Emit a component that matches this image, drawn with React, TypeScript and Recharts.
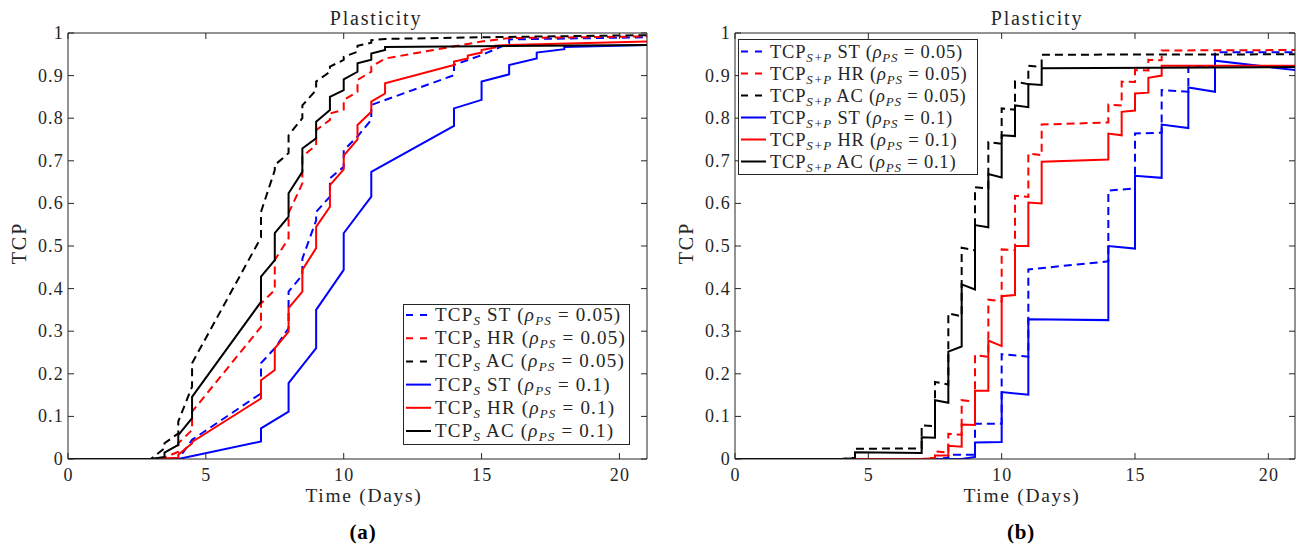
import React from 'react';
import { LineChart, Line, XAxis, YAxis } from 'recharts';

type Pt = [number, number];

const xTicks = [0, 5, 10, 15, 20];
const yTicks = [0, 0.1, 0.2, 0.3, 0.4, 0.5, 0.6, 0.7, 0.8, 0.9, 1];
const yTickLabels = ['0', '0.1', '0.2', '0.3', '0.4', '0.5', '0.6', '0.7', '0.8', '0.9', '1'];
const panelTitles = ['Plasticity', 'Plasticity'];
const panelTags = ['(a)', '(b)'];
const xLabel = 'Time (Days)';
const yLabel = 'TCP';

// ---- Panel (a): TCP_S ----
const S_ST_005: Pt[] = [[0,0],[4,0],[4.5,0.045],[7,0.154],[7,0.225],[7.5,0.26],[8,0.307],[8,0.393],[8.5,0.432],[8.5,0.47],[9,0.56],[9,0.58],[9.5,0.616],[9.5,0.659],[10,0.686],[10,0.725],[10.5,0.757],[11,0.796],[11,0.831],[14,0.901],[14,0.925],[15,0.948],[16,0.976],[16,0.985],[21,0.99]];
const S_HR_005: Pt[] = [[0,0],[3,0],[3.5,0.003],[4,0.017],[4,0.037],[4.5,0.068],[4.5,0.111],[7,0.31],[7,0.365],[7.5,0.397],[7.5,0.467],[8,0.518],[8,0.577],[8.5,0.647],[8.5,0.71],[9,0.737],[9,0.772],[9.5,0.796],[9.5,0.811],[10,0.82],[10,0.843],[10.5,0.862],[10.5,0.89],[11,0.909],[11,0.921],[11.5,0.94],[15,0.98],[16,0.988],[21,0.992]];
const S_AC_005: Pt[] = [[0,0],[3,0],[3.5,0.025],[3.5,0.037],[4,0.06],[4,0.088],[4.5,0.17],[4.5,0.225],[7,0.52],[7,0.58],[7.5,0.678],[7.5,0.69],[8,0.718],[8,0.76],[8.5,0.8],[8.5,0.83],[9,0.866],[9,0.886],[9.5,0.909],[9.5,0.921],[10,0.937],[10,0.944],[10.5,0.956],[10.5,0.97],[11,0.977],[11,0.983],[11.5,0.986],[15,0.99],[21,0.995]];
const S_ST_01: Pt[] = [[0,0],[4,0],[7,0.041],[7,0.072],[8,0.111],[8,0.178],[9,0.26],[9,0.35],[10,0.444],[10,0.53],[11,0.616],[11,0.674],[14,0.782],[14,0.823],[15,0.843],[15,0.886],[16,0.903],[16,0.925],[17,0.94],[17,0.954],[18,0.962],[18,0.967],[21,0.972]];
const S_HR_01: Pt[] = [[0,0],[3,0],[4,0.003],[4,0.01],[4.5,0.037],[4.5,0.04],[7,0.142],[7,0.185],[7.5,0.209],[7.5,0.26],[8,0.299],[8,0.354],[8.5,0.393],[8.5,0.444],[9,0.495],[9,0.545],[9.5,0.592],[9.5,0.643],[10,0.68],[10,0.712],[10.5,0.75],[10.5,0.784],[11,0.815],[11,0.839],[11.5,0.858],[11.5,0.882],[14,0.925],[14,0.933],[14.5,0.94],[14.5,0.947],[15,0.954],[15,0.96],[15.5,0.966],[15.5,0.97],[16,0.972],[21,0.98]];
const S_AC_01: Pt[] = [[0,0],[3,0],[3.5,0.005],[3.5,0.015],[4,0.033],[4,0.056],[4.5,0.096],[4.5,0.146],[7,0.369],[7,0.428],[7.5,0.467],[7.5,0.53],[8,0.569],[8,0.624],[8.5,0.674],[8.5,0.729],[9,0.753],[9,0.792],[9.5,0.819],[9.5,0.85],[10,0.866],[10,0.891],[10.5,0.909],[10.5,0.929],[11,0.937],[11,0.952],[11.5,0.96],[11.5,0.967],[21,0.972]];

// ---- Panel (b): TCP_{S+P} ----
const SP_ST_005: Pt[] = [[0,0],[7.5,0],[8,0.003],[8,0.01],[9,0.01],[9,0.083],[10,0.083],[10,0.246],[11,0.24],[11,0.445],[14,0.464],[14,0.63],[15,0.635],[15,0.764],[16,0.766],[16,0.866],[17,0.862],[17,0.92],[18,0.92],[18,0.955],[21,0.955]];
const SP_HR_005: Pt[] = [[0,0],[7,0],[7.5,0.003],[7.5,0.018],[8,0.015],[8,0.059],[8.5,0.057],[8.5,0.138],[9,0.135],[9,0.244],[9.5,0.24],[9.5,0.374],[10,0.37],[10,0.492],[10.5,0.49],[10.5,0.618],[11,0.615],[11,0.717],[11.5,0.713],[11.5,0.785],[14,0.79],[14,0.832],[14.5,0.83],[14.5,0.886],[15,0.885],[15,0.913],[15.5,0.912],[15.5,0.937],[16,0.936],[16,0.959],[21,0.96]];
const SP_AC_005: Pt[] = [[0,0],[4,0],[4.5,0.003],[4.5,0.024],[7,0.025],[7,0.079],[7.5,0.077],[7.5,0.181],[8,0.175],[8,0.342],[8.5,0.335],[8.5,0.496],[9,0.49],[9,0.638],[9.5,0.635],[9.5,0.744],[10,0.74],[10,0.823],[10.5,0.82],[10.5,0.886],[11,0.88],[11,0.923],[11.5,0.92],[11.5,0.949],[21,0.95]];
const SP_ST_01: Pt[] = [[0,0],[8.5,0],[9,0.005],[9,0.039],[10,0.04],[10,0.157],[11,0.151],[11,0.328],[14,0.326],[14,0.5],[15,0.494],[15,0.665],[16,0.66],[16,0.785],[17,0.777],[17,0.872],[18,0.862],[18,0.935],[21,0.913]];
const SP_HR_01: Pt[] = [[0,0],[7,0],[7.5,0.002],[7.5,0.008],[8,0.008],[8,0.031],[8.5,0.029],[8.5,0.081],[9,0.08],[9,0.16],[9.5,0.16],[9.5,0.278],[10,0.265],[10,0.382],[10.5,0.385],[10.5,0.5],[11,0.5],[11,0.602],[11.5,0.6],[11.5,0.698],[14,0.703],[14,0.764],[14.5,0.76],[14.5,0.815],[15,0.818],[15,0.858],[15.5,0.86],[15.5,0.895],[16,0.9],[16,0.923],[21,0.923]];
const SP_AC_01: Pt[] = [[0,0],[4,0],[4.5,0.002],[4.5,0.016],[7,0.014],[7,0.051],[7.5,0.05],[7.5,0.138],[8,0.132],[8,0.252],[8.5,0.264],[8.5,0.41],[9,0.398],[9,0.549],[9.5,0.544],[9.5,0.669],[10,0.661],[10,0.76],[10.5,0.758],[10.5,0.83],[11,0.826],[11,0.88],[11.5,0.878],[11.5,0.917],[21,0.92]];

const techniques = ['ST', 'HR', 'AC'];
const rhoValues = ['0.05', '0.05', '0.05', '0.1', '0.1', '0.1'];

const AXIS = '#262626';
const FONT = '"Liberation Serif", "Times New Roman", serif';
const BLUE = '#0000ff';
const RED = '#ff0000';
const BLACK = '#000000';
const DASH = '8 5';

type Series = { data: Pt[]; color: string; dashed: boolean; tech: string; rho: string };

const seriesA: Series[] = [
  { data: S_ST_005, color: BLUE, dashed: true, tech: techniques[0], rho: rhoValues[0] },
  { data: S_HR_005, color: RED, dashed: true, tech: techniques[1], rho: rhoValues[1] },
  { data: S_AC_005, color: BLACK, dashed: true, tech: techniques[2], rho: rhoValues[2] },
  { data: S_ST_01, color: BLUE, dashed: false, tech: techniques[0], rho: rhoValues[3] },
  { data: S_HR_01, color: RED, dashed: false, tech: techniques[1], rho: rhoValues[4] },
  { data: S_AC_01, color: BLACK, dashed: false, tech: techniques[2], rho: rhoValues[5] },
];
const seriesB: Series[] = [
  { data: SP_ST_005, color: BLUE, dashed: true, tech: techniques[0], rho: rhoValues[0] },
  { data: SP_HR_005, color: RED, dashed: true, tech: techniques[1], rho: rhoValues[1] },
  { data: SP_AC_005, color: BLACK, dashed: true, tech: techniques[2], rho: rhoValues[2] },
  { data: SP_ST_01, color: BLUE, dashed: false, tech: techniques[0], rho: rhoValues[3] },
  { data: SP_HR_01, color: RED, dashed: false, tech: techniques[1], rho: rhoValues[4] },
  { data: SP_AC_01, color: BLACK, dashed: false, tech: techniques[2], rho: rhoValues[5] },
];

const toRows = (pts: Pt[]) => pts.map(([x, y]) => ({ x, y }));
const TICK = 6;
const TICK_FS = 18;
const TICK_LS = 1.2;

const BottomTick = (p: any) => (
  <g>
    <line x1={p.x} x2={p.x} y1={p.y} y2={p.y - TICK} stroke={AXIS} strokeWidth={1} />
    <text x={p.x + TICK_LS / 2} y={p.y + 21.5} textAnchor="middle" fontSize={TICK_FS} letterSpacing={TICK_LS} fill={AXIS} fontFamily={FONT}>{p.payload.value}</text>
  </g>
);
const TopTick = (p: any) => (
  <line x1={p.x} x2={p.x} y1={p.y} y2={p.y + TICK} stroke={AXIS} strokeWidth={1} />
);
const LeftTick = (p: any) => {
  const idx = yTicks.indexOf(p.payload.value);
  return (
    <g>
      <line x1={p.x} x2={p.x + TICK} y1={p.y} y2={p.y} stroke={AXIS} strokeWidth={1} />
      <text x={p.x - 4} y={p.y + 6} textAnchor="end" fontSize={TICK_FS} letterSpacing={TICK_LS} fill={AXIS} fontFamily={FONT}>{idx >= 0 ? yTickLabels[idx] : p.payload.value}</text>
    </g>
  );
};
const RightTick = (p: any) => (
  <line x1={p.x} x2={p.x - TICK} y1={p.y} y2={p.y} stroke={AXIS} strokeWidth={1} />
);

const TOP = 33;
const BOTTOM = 459;
const H = 545;

type LegendSpec = { x: number; y: number; w: number; h: number; row0: number; rowStep: number; textX: number; fs: number; ls: number };

type PanelProps = {
  left: number; width: number; mLeft: number; mRight: number;
  series: Series[]; sub: string; title: string; tag: string;
  legend: LegendSpec; ylabelX: number; titleX: number; xlabelX: number; tagX: number;
};

const SUB_FS = 13;

const Panel = ({ left, width, mLeft, mRight, series, sub, title, tag, legend, ylabelX, titleX, xlabelX, tagX }: PanelProps) => (
  <>
    <div style={{ position: 'absolute', left, top: 0 }}>
      <LineChart width={width} height={H} margin={{ top: TOP - 1, bottom: H - BOTTOM - 1, left: mLeft - 1, right: mRight - 1 }}>
        <XAxis xAxisId="b" dataKey="x" type="number" domain={[0, 21]} ticks={xTicks} allowDataOverflow
          orientation="bottom" height={1} tickSize={0} tickMargin={0} tick={BottomTick}
          axisLine={{ stroke: AXIS, strokeWidth: 1 }} tickLine={false} interval={0} />
        <XAxis xAxisId="t" dataKey="x" type="number" domain={[0, 21]} ticks={xTicks} allowDataOverflow
          orientation="top" height={1} tickSize={0} tickMargin={0} tick={TopTick}
          axisLine={{ stroke: AXIS, strokeWidth: 1 }} tickLine={false} interval={0} />
        <YAxis yAxisId="l" type="number" domain={[0, 1]} ticks={yTicks} allowDataOverflow
          orientation="left" width={1} tickSize={0} tickMargin={0} tick={LeftTick}
          axisLine={{ stroke: AXIS, strokeWidth: 1 }} tickLine={false} interval={0} />
        <YAxis yAxisId="r" type="number" domain={[0, 1]} ticks={yTicks} allowDataOverflow
          orientation="right" width={1} tickSize={0} tickMargin={0} tick={RightTick}
          axisLine={{ stroke: AXIS, strokeWidth: 1 }} tickLine={false} interval={0} />
        {series.map((s, i) => (
          <Line key={i} xAxisId="b" yAxisId="l" data={toRows(s.data)} dataKey="y" type="linear"
            stroke={s.color} strokeWidth={2} strokeDasharray={s.dashed ? DASH : undefined}
            dot={false} activeDot={false} isAnimationActive={false} />
        ))}
        {series.map((s, i) => (
          <Line key={'t' + i} xAxisId="t" yAxisId="r" data={toRows(s.data)} dataKey="y" type="linear"
            stroke="none" dot={false} activeDot={false} isAnimationActive={false} legendType="none" />
        ))}
      </LineChart>
    </div>
    <svg width={1299} height={H} style={{ position: 'absolute', left: 0, top: 0, pointerEvents: 'none' }}>
      <text x={titleX} y={25} textAnchor="middle" fontFamily={FONT} fontSize={20} letterSpacing={1.8} fill={AXIS}>{title}</text>
      <text x={xlabelX} y={502} textAnchor="middle" fontFamily={FONT} fontSize={19.5} letterSpacing={1.7} fill={AXIS}>{xLabel}</text>
      <text x={tagX} y={539} textAnchor="middle" fontFamily={FONT} fontSize={21} fontWeight="bold" letterSpacing={0.8} fill="#000">{tag}</text>
      <text x={ylabelX} y={(TOP + BOTTOM) / 2 - 3} textAnchor="middle" fontFamily={FONT} fontSize={20} letterSpacing={2}
        fill={AXIS} transform={`rotate(-90 ${ylabelX} ${(TOP + BOTTOM) / 2 - 3})`}>{yLabel}</text>
      <rect x={legend.x + 0.5} y={legend.y + 0.5} width={legend.w} height={legend.h} fill="#fff" stroke={AXIS} strokeWidth={1} />
      {series.map((s, i) => {
        const cy = legend.y + legend.row0 + i * legend.rowStep;
        return (
          <g key={i}>
            <line x1={legend.x + 3} x2={legend.x + 28} y1={cy} y2={cy} stroke={s.color} strokeWidth={2}
              strokeDasharray={s.dashed ? '7 7' : undefined} />
            <text x={legend.textX} y={cy + 6} fontFamily={FONT} fontSize={legend.fs} letterSpacing={legend.ls} fill={AXIS}>
              TCP<tspan fontStyle="italic" fontSize={SUB_FS} dy={4}>{sub}</tspan>
              <tspan dy={-4}>{` ${s.tech} (`}</tspan>
              <tspan fontStyle="italic">ρ</tspan>
              <tspan fontStyle="italic" fontSize={SUB_FS} dy={4}>PS</tspan>
              <tspan dy={-4}>{` = ${s.rho})`}</tspan>
            </text>
          </g>
        );
      })}
    </svg>
  </>
);

export default function App() {
  return (
    <div style={{ position: 'absolute', left: 0, top: 0, width: 1299, height: 545, background: '#fff', overflow: 'hidden' }}>
      <Panel left={0} width={660} mLeft={68} mRight={13} series={seriesA} sub="S" title={panelTitles[0]} tag={panelTags[0]}
        legend={{ x: 403, y: 304, w: 226, h: 140, row0: 11, rowStep: 23.2, textX: 435, fs: 19, ls: 1.2 }}
        ylabelX={26} titleX={376} xlabelX={364} tagX={363} />
      <Panel left={660} width={639} mLeft={75} mRight={4} series={seriesB} sub="S+P" title={panelTitles[1]} tag={panelTags[1]}
        legend={{ x: 738, y: 39, w: 239, h: 135, row0: 12.5, rowStep: 22, textX: 770, fs: 18.5, ls: 0.8 }}
        ylabelX={693} titleX={1037} xlabelX={1022} tagX={1021} />
    </div>
  );
}
